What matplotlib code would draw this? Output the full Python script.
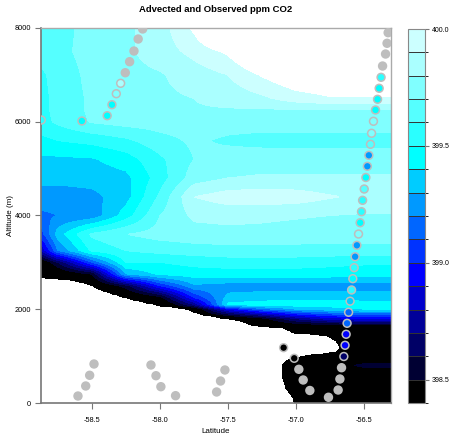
import numpy as np
import matplotlib
matplotlib.use("Agg")
import matplotlib.pyplot as plt
from matplotlib.colors import ListedColormap, BoundaryNorm
from matplotlib.path import Path
from matplotlib.cm import ScalarMappable

plt.rcParams["font.family"] = ["Liberation Sans", "DejaVu Sans"]
plt.rcParams["axes.unicode_minus"] = False

# --- advected CO2 field (ppm), rows from top (8000 m) down to the ground ---
lat_grid = [-58.875, -58.75, -58.5, -58.25, -58.0, -57.75, -57.5, -57.25, -57.0, -56.75, -56.5, -56.3]
alt_grid = [8000, 7500, 7000, 6500, 6250, 6000, 5600, 5200, 4800, 4400, 4000, 3600,
            3250, 3000, 2750, 2500, 2250, 2100, 2000, 1800, 1600, 1200, 800, 400, 0]
co2_grid = [
    [399.64, 399.66, 399.74, 399.78, 399.85, 400.02, 400.30, 400.40, 400.40, 400.40, 400.40, 400.40],
    [399.64, 399.67, 399.74, 399.78, 399.85, 399.93, 400.02, 400.20, 400.30, 400.30, 400.30, 400.30],
    [399.58, 399.64, 399.73, 399.77, 399.79, 399.85, 399.90, 400.01, 400.10, 400.12, 400.12, 400.12],
    [399.57, 399.63, 399.72, 399.75, 399.78, 399.80, 399.84, 399.88, 399.95, 399.99, 399.99, 399.99],
    [399.57, 399.63, 399.72, 399.75, 399.77, 399.79, 399.79, 399.79, 399.79, 399.79, 399.79, 399.79],
    [399.56, 399.62, 399.71, 399.74, 399.75, 399.75, 399.75, 399.75, 399.75, 399.75, 399.75, 399.75],
    [399.47, 399.50, 399.53, 399.58, 399.66, 399.72, 399.68, 399.66, 399.66, 399.66, 399.66, 399.66],
    [399.38, 399.38, 399.39, 399.45, 399.58, 399.70, 399.75, 399.76, 399.76, 399.75, 399.75, 399.75],
    [399.33, 399.33, 399.34, 399.37, 399.55, 399.75, 399.80, 399.81, 399.81, 399.81, 399.81, 399.81],
    [399.25, 399.25, 399.27, 399.36, 399.62, 399.90, 399.95, 399.96, 399.95, 399.91, 399.88, 399.87],
    [399.18, 399.20, 399.23, 399.45, 399.70, 399.82, 399.83, 399.82, 399.81, 399.80, 399.79, 399.79],
    [399.05, 399.35, 399.62, 399.70, 399.74, 399.76, 399.77, 399.77, 399.76, 399.75, 399.75, 399.75],
    [398.80, 399.20, 399.52, 399.60, 399.63, 399.65, 399.66, 399.66, 399.66, 399.66, 399.66, 399.66],
    [398.35, 398.60, 399.10, 399.50, 399.50, 399.53, 399.55, 399.55, 399.55, 399.53, 399.52, 399.52],
    [398.30, 398.35, 398.50, 399.30, 399.42, 399.45, 399.45, 399.45, 399.45, 399.45, 399.43, 399.43],
    [398.30, 398.30, 398.30, 398.55, 399.00, 399.28, 399.25, 399.25, 399.25, 399.25, 399.25, 399.25],
    [398.30, 398.30, 398.30, 398.30, 398.45, 399.00, 399.33, 399.35, 399.36, 399.36, 399.35, 399.35],
    [398.30, 398.30, 398.30, 398.30, 398.30, 398.70, 399.42, 399.45, 399.45, 399.45, 399.45, 399.45],
    [398.30, 398.30, 398.30, 398.30, 398.30, 398.35, 398.90, 399.15, 399.30, 399.35, 399.40, 399.40],
    [398.30, 398.30, 398.30, 398.30, 398.30, 398.30, 398.30, 398.45, 398.70, 398.85, 398.90, 398.90],
    [398.30] * 12,
    [398.30] * 12,
    [398.30, 398.30, 398.30, 398.30, 398.30, 398.30, 398.30, 398.30, 398.30, 398.45, 398.52, 398.52],
    [398.30] * 12,
    [398.30] * 12,
]

# outline of the area with no advected values (below the terrain)
gap_lat = [-58.95, -58.875, -58.75, -58.625, -58.515, -58.441, -58.331, -58.199, -58.0, -57.816,
           -57.706, -57.559, -57.412, -57.316, -57.096, -57.022, -56.772, -56.699, -56.676, -56.706,
           -56.772, -56.897, -56.993, -57.066, -57.103, -57.103, -57.074, -57.022, -57.007, -58.95]
gap_alt = [2667, 2667, 2645, 2603, 2517, 2411, 2304, 2197, 2069, 2005,
           1890, 1813, 1749, 1643, 1600, 1493, 1429, 1301, 1173, 1088,
           1067, 1024, 981, 917, 789, 576, 320, 107, -100, -100]

# observed CO2 along the flight tracks (nan = no observation)
obs_lat = [-58.127, -58.160, -58.191, -58.223, -58.255, -58.289, -58.321, -58.353, -58.388, -58.574, -58.873,
           -56.321, -56.329, -56.340, -56.362, -56.373, -56.387, -56.399, -56.414, -56.429, -56.443,
           -56.451, -56.463, -56.474, -56.485, -56.497, -56.509, -56.517, -56.527, -56.539, -56.551,
           -56.564, -56.571, -56.581, -56.590, -56.601, -56.612, -56.623, -56.630, -56.638, -56.647,
           -56.664, -56.676, -56.689, -56.760, -56.897, -56.946, -56.978, -57.012, -57.090,
           -58.485, -58.517, -58.546, -58.603, -58.066, -58.029, -57.993, -57.885,
           -57.522, -57.554, -57.583]
obs_alt = [7979, 7765, 7509, 7281, 7046, 6820, 6598, 6364, 6129, 6016, 6037,
           7900, 7674, 7445, 7189, 6948, 6714, 6479, 6251, 6010, 5754,
           5519, 5284, 5050, 4811, 4565, 4324, 4081, 3846, 3605, 3364,
           3121, 2887, 2652, 2411, 2172, 1935, 1700, 1466, 1231, 992,
           753, 512, 277, 122, 267, 491, 719, 954, 1180,
           832, 591, 363, 149, 811, 582, 348, 156,
           704, 469, 235]
nan = np.nan
obs_co2 = [nan, nan, nan, nan, nan, 399.85, 399.75, 399.45, 399.45, 399.45, 399.58,
           nan, nan, nan, nan, 399.55, 399.45, 399.45, 399.45, 399.75, 399.72,
           399.65, 399.20, 399.25, 399.45, 399.60, 399.55, 399.50, 399.45, 399.75, 399.25,
           399.25, 399.55, 399.45, 399.50, 399.35, 399.15, 399.10, 398.95, 398.90, 398.65,
           nan, nan, nan, nan, nan, nan, nan, 398.30, 398.30,
           nan, nan, nan, nan, nan, nan, nan, nan,
           nan, nan, nan]

levels = np.round(np.arange(398.4, 400.05, 0.1), 1)
band_colors = ["#000000", "#000033", "#000066", "#000099", "#0000CC", "#0000FF", "#0033FF", "#0066FF",
               "#0099FF", "#00CCFF", "#00FFFF", "#2AFFFF", "#55FFFF", "#80FFFF", "#AAFFFF", "#CCFFFF"]


def regrid(n=500):
    lats = np.array(lat_grid)
    alts = np.array(alt_grid)[::-1]
    z = np.array(co2_grid)[::-1]
    f_lat = np.linspace(lats[0], lats[-1], n)
    f_alt = np.linspace(0, 8000, n)
    cols = np.array([np.interp(f_alt, alts, z[:, j]) for j in range(len(lats))]).T
    field = np.array([np.interp(f_lat, lats, row) for row in cols])
    LA, AL = np.meshgrid(f_lat, f_alt)
    gap = Path(np.column_stack([gap_lat, gap_alt]))
    inside = gap.contains_points(np.column_stack([LA.ravel(), AL.ravel()])).reshape(LA.shape)
    return f_lat, f_alt, np.ma.masked_where(inside, field)


cmap = ListedColormap(band_colors)
cmap.set_under("#000000")
cmap.set_over("#FFFFFF")
norm = BoundaryNorm(levels, cmap.N)

fig = plt.figure(figsize=(4.52, 4.36), dpi=100)
ax = fig.add_axes([41 / 452, 33 / 436, 350 / 452, 375 / 436])
cax = fig.add_axes([408 / 452, 33 / 436, 17 / 452, 374 / 436])

f_lat, f_alt, field = regrid()
ax.contourf(f_lat, f_alt, field, levels=levels, cmap=cmap, norm=norm, extend="both")

vals = np.array(obs_co2)
fills = ["#BEBEBE" if np.isnan(v) else cmap(norm(v)) for v in vals]
ax.scatter(obs_lat, obs_alt, s=32, c=fills, edgecolors="#BEBEBE", linewidths=1.1, zorder=3)

ax.set_xlim(-58.875, -56.30)
ax.set_ylim(0, 8000)
xt = [-58.5, -58.0, -57.5, -57.0, -56.5]
ax.set_xticks(xt)
ax.set_xticklabels([f"{t:.1f}" for t in xt])
ax.set_yticks([0, 2000, 4000, 6000, 8000])
ax.set_yticklabels(["0", "2000", "4000", "6000", "8000"])
ax.tick_params(axis="x", length=4, width=0.8, color="#777777", pad=6, labelsize=5.3)
ax.tick_params(axis="y", length=4, width=0.8, color="#777777", pad=3, labelsize=5.3)
for side in ["top", "right"]:
    ax.spines[side].set_color("#AAAAAA")
    ax.spines[side].set_linewidth(1.0)
for side in ["left", "bottom"]:
    ax.spines[side].set_color("#777777")
    ax.spines[side].set_linewidth(1.2)

fig.text(216 / 452, 5 / 436, "Latitude", ha="center", va="center", fontsize=5.8)
fig.text(11 / 452, 221 / 436, "Altitude (m)", ha="center", va="center", rotation=90, fontsize=5.8)
fig.text(216 / 452, 1 - 9 / 436, "Advected and Observed ppm CO2", ha="center", va="center",
         fontsize=6.8, fontweight="bold")

cb = fig.colorbar(ScalarMappable(norm=norm, cmap=cmap), cax=cax,
                  ticks=[398.5, 399.0, 399.5, 400.0], drawedges=True)
cb.ax.set_yticklabels(["398.5", "399.0", "399.5", "400.0"])
cb.ax.tick_params(length=3, width=0.8, color="#777777", labelsize=5.0, pad=2)
cb.outline.set_edgecolor("#888888")
cb.outline.set_linewidth(0.8)
cb.dividers.set_color("#333333")
cb.dividers.set_linewidth(0.7)

fig.savefig("out.png", dpi=100)
